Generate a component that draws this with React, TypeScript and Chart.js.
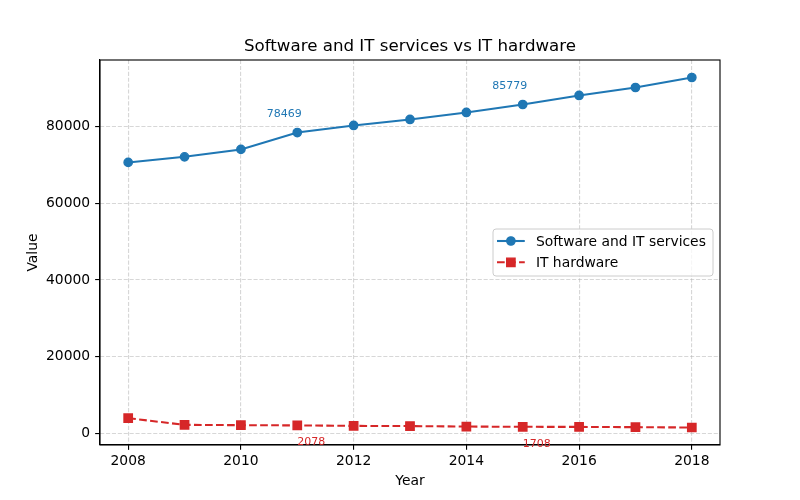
import React, { useEffect, useRef } from "react";
import { Chart, registerables } from "chart.js";

Chart.register(...registerables);

// ---- data ----
const years = [2008, 2009, 2010, 2011, 2012, 2013, 2014, 2015, 2016, 2017, 2018];
const softwareValues = [70670, 72130, 74060, 78469, 80310, 81880, 83700, 85779, 88130, 90210, 92820];
const hardwareValues = [3960, 2220, 2140, 2078, 1950, 1900, 1780, 1708, 1690, 1620, 1530];
const seriesNames = ["Software and IT services", "IT hardware"];
const xTickValues = [2008, 2010, 2012, 2014, 2016, 2018];
const yTickValues = [0, 20000, 40000, 60000, 80000];
const annotatedYears = [2011, 2015];
const chartTitle = "Software and IT services vs IT hardware";
const xAxisLabel = "Year";
const yAxisLabel = "Value";

const BLUE = "#1f77b4";
const RED = "#d62728";
const FONT = "'DejaVu Sans', sans-serif";
const FS = 13.89;

function yRange(): [number, number] {
  const all = [...softwareValues, ...hardwareValues];
  const mn = Math.min(...all);
  const mx = Math.max(...all);
  const m = (mx - mn) * 0.05;
  return [mn - m, mx + m];
}

const decorPlugin = {
  id: "decor",
  afterDraw(chart: any) {
    const ctx = chart.ctx as CanvasRenderingContext2D;
    const ca = chart.chartArea;
    const xs = chart.scales.x;
    const ys = chart.scales.y;
    ctx.save();

    // frame (all four spines)
    ctx.strokeStyle = "#000";
    ctx.lineWidth = 1.11;
    ctx.setLineDash([]);
    ctx.strokeRect(ca.left, ca.top, ca.right - ca.left, ca.bottom - ca.top);

    // title
    ctx.fillStyle = "#000";
    ctx.font = `16.67px ${FONT}`;
    ctx.textAlign = "center";
    ctx.textBaseline = "alphabetic";
    ctx.fillText(chartTitle, (ca.left + ca.right) / 2, ca.top - 9);

    // axis labels
    ctx.font = `${FS}px ${FONT}`;
    ctx.fillText(xAxisLabel, (ca.left + ca.right) / 2, ca.bottom + 40);
    ctx.save();
    ctx.translate(ca.left - 62.7, (ca.top + ca.bottom) / 2);
    ctx.rotate(-Math.PI / 2);
    ctx.fillText(yAxisLabel, 0, 0);
    ctx.restore();

    // annotations
    ctx.font = `11px ${FONT}`;
    ctx.textBaseline = "middle";
    annotatedYears.forEach((yr) => {
      const i = years.indexOf(yr);
      const px = xs.getPixelForValue(yr);
      const sv = softwareValues[i];
      const hv = hardwareValues[i];
      ctx.fillStyle = BLUE;
      ctx.fillText(String(sv), px - 13, ys.getPixelForValue(sv) - 18);
      ctx.fillStyle = RED;
      ctx.fillText(String(hv), px + 14, ys.getPixelForValue(hv) + 17);
    });

    // legend
    ctx.font = `${FS}px ${FONT}`;
    const tw = Math.max(...seriesNames.map((s) => ctx.measureText(s).width));
    const boxW = tw + 3.6 * FS;
    const boxH = 47;
    const bx = ca.right - 7 - boxW;
    const by = (ca.top + ca.bottom) / 2 - boxH / 2;
    ctx.beginPath();
    (ctx as any).roundRect(bx, by, boxW, boxH, 3);
    ctx.fillStyle = "rgba(255,255,255,0.8)";
    ctx.fill();
    ctx.strokeStyle = "#cccccc";
    ctx.lineWidth = 1;
    ctx.stroke();

    const rows = [by + 12, by + 33.3];
    const lx0 = bx + 4;
    const lx1 = lx0 + 2 * FS;
    const mx = (lx0 + lx1) / 2;
    rows.forEach((ry, k) => {
      const col = k === 0 ? BLUE : RED;
      ctx.strokeStyle = col;
      ctx.lineWidth = 2.08;
      ctx.setLineDash(k === 0 ? [] : [7.7, 3.33]);
      ctx.beginPath();
      ctx.moveTo(lx0, ry);
      ctx.lineTo(lx1, ry);
      ctx.stroke();
      ctx.setLineDash([]);
      ctx.fillStyle = col;
      ctx.lineWidth = 1.39;
      ctx.beginPath();
      if (k === 0) {
        ctx.arc(mx, ry, 4.17, 0, Math.PI * 2);
      } else {
        ctx.rect(mx - 4.17, ry - 4.17, 8.33, 8.33);
      }
      ctx.fill();
      ctx.stroke();
      ctx.fillStyle = "#000";
      ctx.textAlign = "left";
      ctx.textBaseline = "alphabetic";
      ctx.fillText(seriesNames[k], lx1 + 0.8 * FS, ry + 5);
    });

    ctx.restore();
  },
};

export default function App() {
  const ref = useRef<HTMLCanvasElement | null>(null);

  useEffect(() => {
    if (!ref.current) return;
    const [ymin, ymax] = yRange();
    const gridCommon = {
      color: "rgba(176,176,176,0.5)",
      lineWidth: 1.11,
      tickColor: "#000",
      tickLength: 4.86,
      tickWidth: 1.11,
      tickBorderDash: [],
    };
    const borderCommon = { display: true, color: "#000", width: 1.11, dash: [4.1, 1.8] };
    const chart = new Chart(ref.current, {
      type: "line",
      data: {
        datasets: [
          {
            label: seriesNames[0],
            data: years.map((y, i) => ({ x: y, y: softwareValues[i] })),
            borderColor: BLUE,
            backgroundColor: BLUE,
            borderWidth: 2.08,
            pointStyle: "circle",
            pointRadius: 4.17,
            pointBorderWidth: 1.39,
            pointBackgroundColor: BLUE,
            pointBorderColor: BLUE,
            tension: 0,
          },
          {
            label: seriesNames[1],
            data: years.map((y, i) => ({ x: y, y: hardwareValues[i] })),
            borderColor: RED,
            backgroundColor: RED,
            borderWidth: 2.08,
            borderDash: [7.7, 3.33],
            pointStyle: "rect",
            pointRadius: 5.9,
            pointBorderWidth: 1.39,
            pointBackgroundColor: RED,
            pointBorderColor: RED,
            tension: 0,
          },
        ],
      },
      options: {
        animation: false,
        responsive: false,
        layout: { padding: { top: 60, right: 80, left: 0, bottom: 0 } },
        plugins: {
          legend: { display: false },
          title: { display: false },
          tooltip: { enabled: false },
        },
        scales: {
          x: {
            type: "linear",
            min: years[0] - 0.5,
            max: years[years.length - 1] + 0.5,
            afterBuildTicks: (s: any) => {
              s.ticks = xTickValues.map((v) => ({ value: v }));
            },
            afterFit: (s: any) => {
              s.height = 55;
            },
            ticks: {
              color: "#000",
              font: { family: FONT, size: FS },
              padding: 3.5,
              maxRotation: 0,
              autoSkip: false,
              callback: (v: any) => String(v),
            },
            grid: gridCommon,
            border: borderCommon,
          },
          y: {
            type: "linear",
            min: ymin,
            max: ymax,
            afterBuildTicks: (s: any) => {
              s.ticks = yTickValues.map((v) => ({ value: v }));
            },
            afterFit: (s: any) => {
              s.width = 100;
            },
            ticks: {
              color: "#000",
              font: { family: FONT, size: FS },
              padding: 5,
              autoSkip: false,
              callback: (v: any) => String(v),
            },
            grid: gridCommon,
            border: borderCommon,
          },
        },
      },
      plugins: [decorPlugin],
    });
    return () => chart.destroy();
  }, []);

  return (
    <div style={{ position: "absolute", left: 0, top: 0, width: 800, height: 500, background: "#fff" }}>
      <canvas ref={ref} width={800} height={500} style={{ display: "block" }} />
    </div>
  );
}
